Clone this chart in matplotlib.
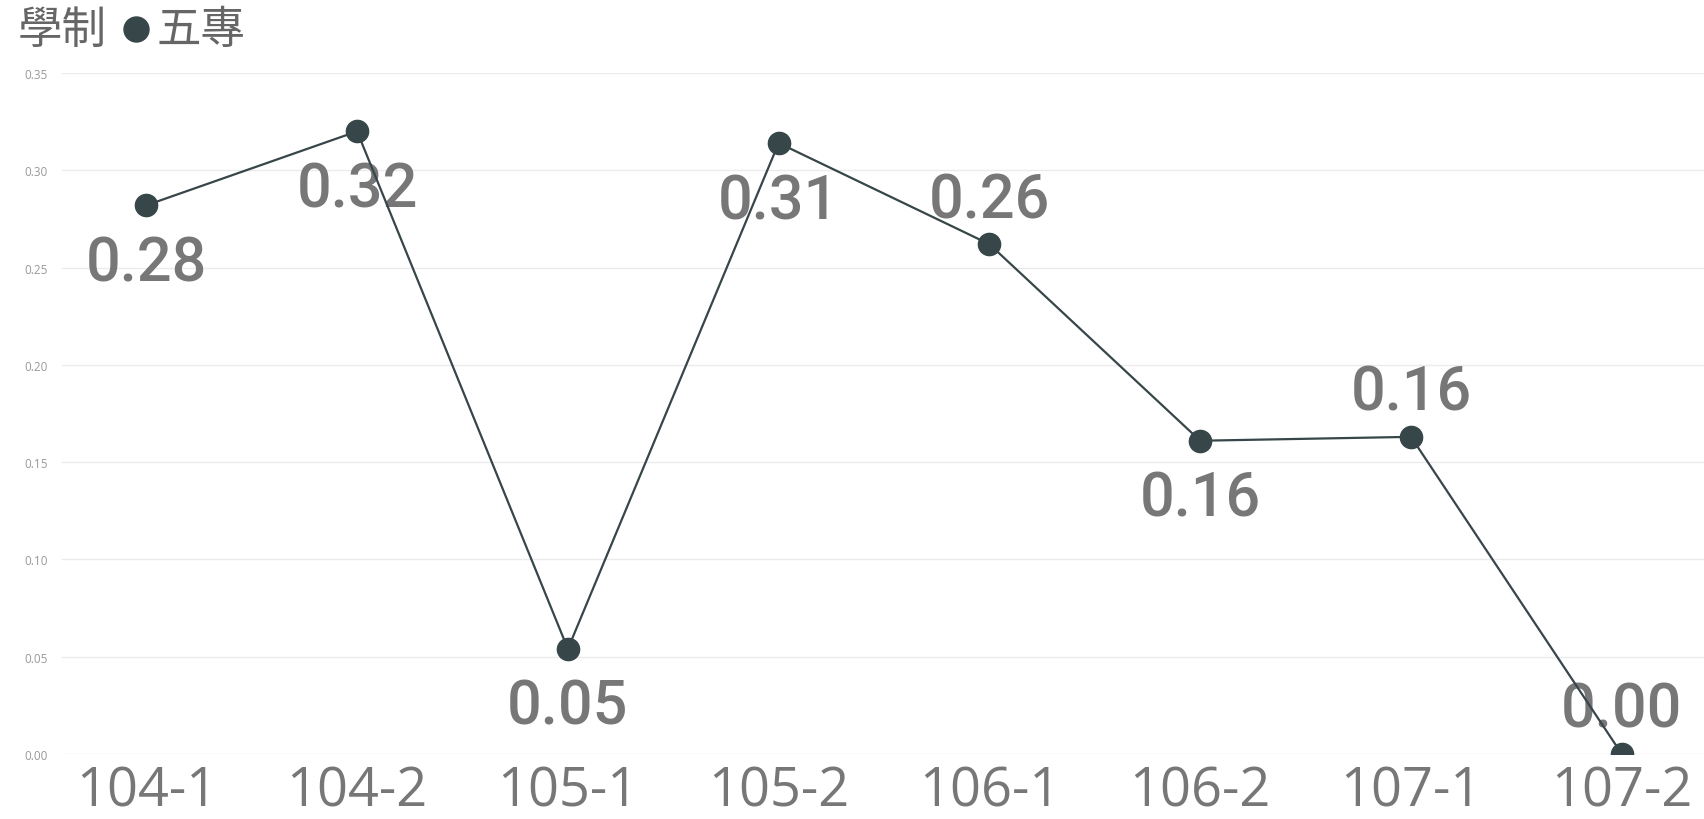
import numpy as np
import matplotlib.pyplot as plt

# data
terms = ['104-1', '104-2', '105-1', '105-2', '106-1', '106-2', '107-1', '107-2']
values = [0.282, 0.320, 0.054, 0.314, 0.262, 0.161, 0.163, 0.0]
label_side = ['below', 'below', 'below', 'below', 'above', 'below', 'above', 'above']
yticks = [0.00, 0.05, 0.10, 0.15, 0.20, 0.25, 0.30, 0.35]

line_col = '#374649'
text_col = '#777777'

fig = plt.figure(figsize=(17.04, 8.2), dpi=100)
ax = fig.add_axes([62 / 1704, 65 / 820, 1 - 62 / 1704, 681 / 820])

x = np.arange(len(terms))
ax.plot(x, values, color=line_col, lw=1.6, marker='o', ms=16, zorder=3)

for xi, v, side in zip(x, values, label_side):
    dy = 44 if side == 'above' else -58
    ax.annotate(f'{v:.2f}', (xi, v), xytext=(0, dy), textcoords='offset pixels',
                ha='center', va='center', fontsize=44, color=text_col,
                family='Roboto', fontweight='medium', zorder=2)

ax.set_xlim(-0.4, 7.39)
ax.set_ylim(0, 0.35)
ax.set_xticks(x)
ax.set_xticklabels(terms, fontsize=39, color=text_col, family='Open Sans')
ax.set_yticks(yticks)
ax.set_yticklabels([f'{t:.2f}' for t in yticks], fontsize=8.5, color='#999999',
                   family='Open Sans')
ax.tick_params(axis='x', length=0, pad=7)
ax.tick_params(axis='y', length=0, pad=10)
ax.grid(axis='y', color='#ebebeb', lw=1)
ax.set_axisbelow(True)
for s in ax.spines.values():
    s.set_visible(False)

# legend header
fig.text(18 / 1704, 1 - 30 / 820, '學制', fontsize=32, color='#666666',
         family=['Noto Sans CJK TC', 'DejaVu Sans'], va='center', ha='left')
fig.add_artist(plt.Line2D([136 / 1704], [1 - 30 / 820], marker='o', ms=18,
                          color=line_col, transform=fig.transFigure))
fig.text(157 / 1704, 1 - 30 / 820, '五專', fontsize=32, color='#666666',
         family=['Noto Sans CJK TC', 'DejaVu Sans'], va='center', ha='left')

fig.savefig('out.png', dpi=100)
